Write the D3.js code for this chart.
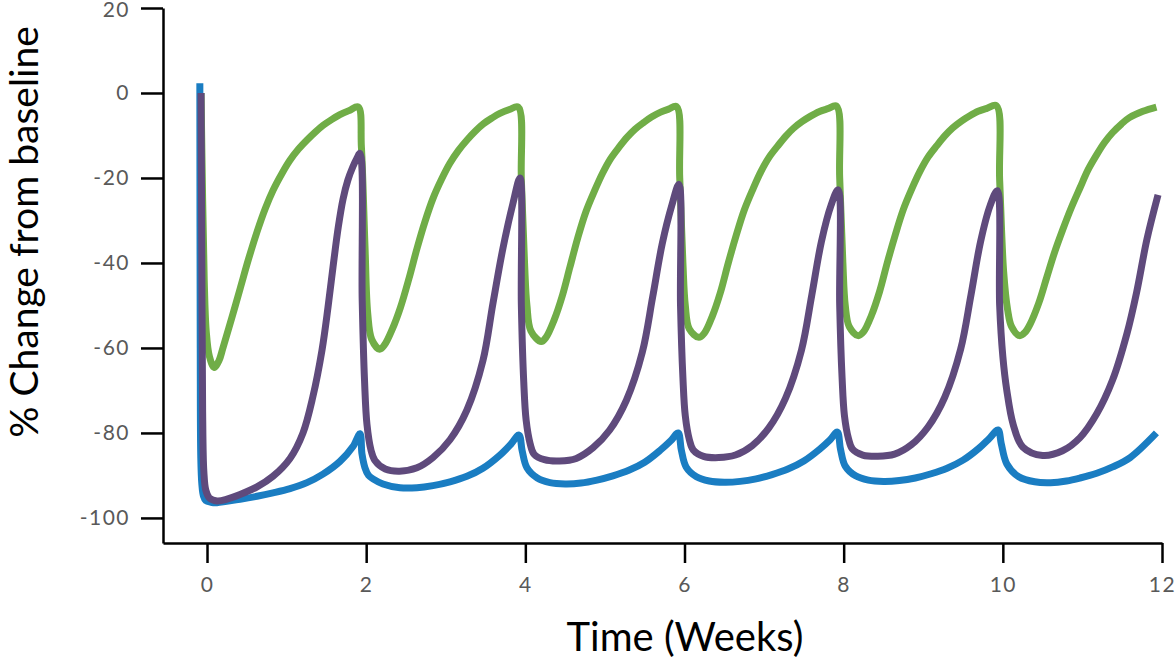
<!DOCTYPE html>
<html>
<head>
<meta charset="utf-8">
<script src="https://cdn.jsdelivr.net/npm/d3@7"></script>
<style>
  body { margin: 0; background: #fff; }
  svg { display: block; }
  .tick text { font-family: Lato, "Open Sans", sans-serif; fill: #595959; }
</style>
</head>
<body>
<div id="chart"></div>
<script>
const width = 1176;
const height = 663;

// [week, % change]
const green = [
  [-0.075, 0], [-0.055, -25], [-0.035, -44], [-0.01, -56], [0.03, -62], [0.09, -64.6], [0.15, -63], [0.2, -60],
  [0.31, -53], [0.42, -45.8], [0.52, -39.2], [0.63, -32.6], [0.73, -27.3], [0.83, -22.9], [0.94, -19],
  [1.04, -15.9], [1.15, -13.2], [1.26, -11.0], [1.36, -9.2], [1.46, -7.6], [1.57, -6.2], [1.67, -5.1],
  [1.79, -4.1], [1.90, -3.3],
  [1.94, -12.7], [1.985, -36], [2.02, -52], [2.07, -58], [2.17, -60.3], [2.23, -59.3], [2.33, -55.5],
  [2.43, -50.5], [2.54, -43.5], [2.64, -36.5], [2.74, -30.2], [2.84, -24.8], [2.95, -20.2], [3.05, -16.6],
  [3.16, -13.5], [3.27, -11.0], [3.37, -9.0], [3.47, -7.3], [3.58, -5.9], [3.68, -4.8], [3.80, -3.9], [3.91, -3.3],
  [3.95, -20.5], [3.99, -40], [4.02, -50], [4.07, -56], [4.20, -58.5], [4.26, -57.5], [4.36, -53.5],
  [4.46, -48], [4.56, -41], [4.66, -34], [4.76, -28], [4.87, -23], [4.97, -18.9], [5.07, -15.5],
  [5.18, -12.7], [5.28, -10.4], [5.38, -8.5], [5.49, -6.9], [5.59, -5.6], [5.70, -4.5], [5.80, -3.8], [5.90, -3.2],
  [5.94, -20], [5.98, -40], [6.01, -50], [6.06, -55.5], [6.18, -57.5], [6.25, -56.5], [6.35, -52.5],
  [6.45, -47], [6.55, -40], [6.65, -33.5], [6.75, -27.6], [6.86, -22.6], [6.96, -18.5], [7.06, -15.2],
  [7.17, -12.5], [7.27, -10.2], [7.37, -8.3], [7.48, -6.7], [7.58, -5.5], [7.69, -4.4], [7.80, -3.7], [7.91, -3.1],
  [7.95, -20], [7.99, -40], [8.02, -50], [8.07, -55], [8.18, -57.1], [8.25, -56.2], [8.35, -52.3],
  [8.45, -46.8], [8.55, -39.8], [8.65, -33.3], [8.75, -27.4], [8.86, -22.4], [8.96, -18.4], [9.06, -15.1],
  [9.17, -12.4], [9.27, -10.1], [9.37, -8.2], [9.48, -6.6], [9.58, -5.4], [9.69, -4.3], [9.80, -3.6], [9.92, -3.0],
  [9.96, -20.5], [10.01, -42], [10.06, -51], [10.11, -55], [10.21, -57.1], [10.28, -56.3], [10.34, -54.5],
  [10.45, -49.5], [10.55, -43.5], [10.65, -37.5], [10.75, -32.3], [10.86, -27], [10.97, -22.3], [11.07, -18.1],
  [11.18, -14.5], [11.28, -11.6], [11.38, -9.3], [11.49, -7.3], [11.59, -5.8], [11.76, -4.3], [11.93, -3.3]
];

const purple = [
  [-0.075, 0], [-0.065, -40], [-0.055, -75], [-0.04, -89], [-0.015, -93.5], [0.03, -95.3], [0.126, -96],
  [0.25, -95.6], [0.415, -94.5], [0.628, -92.7], [0.829, -90.2], [1.043, -86.0], [1.206, -80.0], [1.33, -71.5],
  [1.445, -60.5], [1.52, -50.5], [1.583, -41], [1.65, -31.5], [1.709, -25], [1.77, -20.5], [1.834, -17.3],
  [1.88, -15.5], [1.922, -14.2],
  [1.95, -48.8], [1.98, -68], [2.01, -78], [2.06, -84], [2.11, -86.5], [2.24, -88.5], [2.42, -89],
  [2.638, -88.2], [2.839, -85.8], [3.053, -81.6], [3.266, -74.6], [3.467, -63], [3.593, -49.5],
  [3.719, -36.5], [3.844, -26], [3.932, -20],
  [3.95, -50], [3.98, -68], [4.01, -77], [4.06, -82.5], [4.11, -85], [4.24, -86.3], [4.43, -86.6],
  [4.64, -86], [4.85, -83.5], [5.06, -79.3], [5.27, -72.3], [5.47, -61], [5.60, -48], [5.72, -35.5],
  [5.84, -26.5], [5.93, -21.5],
  [5.95, -50], [5.98, -67], [6.01, -76], [6.06, -81.5], [6.11, -84], [6.24, -85.5], [6.43, -85.8],
  [6.64, -85.2], [6.85, -83], [7.06, -78.8], [7.27, -71.8], [7.47, -60.5], [7.60, -47.5], [7.72, -35],
  [7.84, -26.5], [7.93, -22.8],
  [7.95, -50], [7.98, -67], [8.01, -76], [8.06, -81.3], [8.11, -83.8], [8.24, -85.2], [8.43, -85.5],
  [8.64, -85], [8.85, -82.8], [9.06, -78.6], [9.27, -71.6], [9.47, -60.3], [9.60, -47.5], [9.72, -35],
  [9.84, -26.5], [9.93, -23],
  [9.96, -50], [10.0, -62], [10.05, -70], [10.13, -78], [10.25, -83.3], [10.50, -85.3], [10.75, -84.2],
  [10.97, -81.1], [11.18, -75.5], [11.38, -67.5], [11.56, -56.6], [11.68, -47], [11.81, -34.5], [11.95, -24]
];

const blue = [
  [-0.09, 2.3], [-0.085, -60], [-0.078, -86], [-0.065, -92], [-0.045, -94.8], [-0.015, -95.9],
  [0.05, -96.3], [0.126, -96.4], [0.415, -95.6], [0.628, -94.9], [0.829, -94.1], [1.043, -93.1],
  [1.256, -91.7], [1.457, -89.7], [1.671, -86.7], [1.834, -83.2], [1.922, -80.2],
  [1.947, -84.9], [1.985, -88.2], [2.03, -90], [2.085, -90.8], [2.211, -92], [2.425, -92.9], [2.638, -92.9],
  [2.839, -92.4], [3.053, -91.5], [3.266, -90.2], [3.467, -88.3], [3.681, -85.2], [3.82, -82.6], [3.92, -80.5],
  [3.96, -84.2], [4.02, -88.2], [4.15, -90.6], [4.31, -91.7], [4.5, -92], [4.7, -91.8], [4.9, -91.1],
  [5.1, -90.1], [5.3, -88.8], [5.5, -86.9], [5.7, -84.0], [5.83, -81.8], [5.92, -80],
  [5.96, -84], [6.02, -88], [6.15, -90.3], [6.31, -91.3], [6.5, -91.6], [6.7, -91.4], [6.9, -90.8],
  [7.1, -89.8], [7.3, -88.5], [7.5, -86.6], [7.7, -83.8], [7.83, -81.6], [7.92, -79.8],
  [7.96, -83.8], [8.02, -87.8], [8.15, -90.1], [8.31, -91.1], [8.5, -91.4], [8.7, -91.2], [8.9, -90.6],
  [9.1, -89.6], [9.3, -88.3], [9.5, -86.4], [9.7, -83.6], [9.83, -81.3], [9.94, -79.3],
  [9.98, -82.5], [10.05, -87.3], [10.2, -90.3], [10.4, -91.5], [10.6, -91.7], [10.8, -91.3],
  [10.97, -90.6], [11.18, -89.5], [11.38, -88.0], [11.6, -85.8], [11.93, -80]
];

const xTicks = [0, 2, 4, 6, 8, 10, 12];
const yTicks = [20, 0, -20, -40, -60, -80, -100];

const series = [
  { name: "green", color: "#70ad47", values: green },
  { name: "blue", color: "#1a7dc2", values: blue },
  { name: "purple", color: "#5f4a7c", values: purple }
];

const x = d3.scaleLinear().domain([-0.553, 12]).range([163, 1162]);
const y = d3.scaleLinear().domain([-105.9, 20]).range([543, 8]);

const svg = d3.select("#chart").append("svg")
    .attr("width", width)
    .attr("height", height);

const line = d3.line()
    .x(d => x(d[0]))
    .y(d => y(d[1]))
    .curve(d3.curveCatmullRom.alpha(0.5));

svg.append("g")
    .attr("fill", "none")
    .selectAll("path")
    .data(series)
    .join("path")
    .attr("stroke", d => d.color)
    .attr("stroke-width", 7)
    .attr("stroke-linejoin", "round")
    .attr("d", d => line(d.values));

// axes - plain hyphen for negatives like the original
const fmt = d => String(d);

const yAxis = svg.append("g")
    .attr("transform", `translate(${x.range()[0]},0)`)
    .call(d3.axisLeft(y).tickValues(yTicks).tickFormat(fmt).tickSize(22).tickSizeOuter(0).tickPadding(11));

const xAxis = svg.append("g")
    .attr("transform", `translate(0,${y.range()[0]})`)
    .call(d3.axisBottom(x).tickValues(xTicks).tickFormat(fmt).tickSize(20).tickSizeOuter(0).tickPadding(14));

[xAxis, yAxis].forEach(g => {
  g.select(".domain").attr("stroke", "#000").attr("stroke-width", 2.5);
  g.selectAll(".tick line").attr("stroke", "#000").attr("stroke-width", 2.5);
  g.selectAll(".tick text").style("font-size", "21px").style("letter-spacing", "1.5px");
});
// keep the top label inside the page
yAxis.selectAll(".tick text").filter(d => d === 20).attr("dy", "0.4em");

svg.append("text")
    .attr("x", 685)
    .attr("y", 651)
    .attr("text-anchor", "middle")
    .style("font-family", "Lato, 'Open Sans', sans-serif")
    .style("font-size", "40px")
    .attr("fill", "#000")
    .text("Time (Weeks)");

svg.append("text")
    .attr("transform", "translate(38,232) rotate(-90)")
    .attr("text-anchor", "middle")
    .style("font-family", "Lato, 'Open Sans', sans-serif")
    .style("font-size", "39px")
    .attr("fill", "#000")
    .text("% Change from baseline");
</script>
</body>
</html>
